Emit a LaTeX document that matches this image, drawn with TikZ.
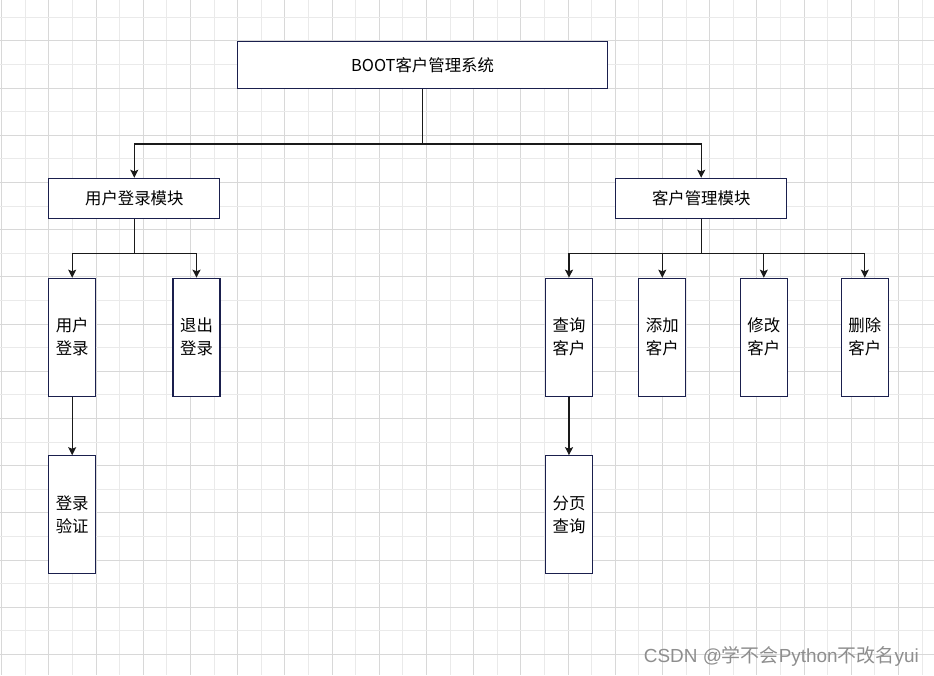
\documentclass[tikz,border=0pt]{standalone}
\usepackage{fontspec}
\setmainfont{Noto Sans CJK SC}
\newfontfamily\wmlat{Liberation Sans}
\usetikzlibrary{arrows.meta}
\definecolor{boxc}{HTML}{1A1F4D}
\definecolor{gridmaj}{HTML}{D8D8D8}
\definecolor{gridmin}{HTML}{EAEAEA}
\definecolor{linec}{HTML}{1A1A1A}
\definecolor{wmc}{HTML}{8E8E8E}
\begin{document}
\begin{tikzpicture}[x=0.75pt,y=-0.75pt,
  box/.style={draw=boxc,line width=0.8pt,fill=white,inner sep=0pt,
    font=\fontsize{12.3pt}{17.25pt}\selectfont,align=center,text=black},
  topbox/.style={box,minimum width=277.5pt,minimum height=35pt},
  modbox/.style={box,minimum width=128.25pt,minimum height=30pt},
  leafbox/.style={box,minimum width=35.25pt,minimum height=88.5pt},
  arr/.style={draw=linec,line width=0.95pt,-{Stealth[length=6pt,width=6pt,inset=1.2pt]}},
  gmaj/.style={draw=gridmaj,line width=0.75pt},
  gmin/.style={draw=gridmin,line width=0.75pt}]
\useasboundingbox (0,0) rectangle (934,675);
\fill[white] (0,0) rectangle (934,675);
% grid
\foreach \k in {0,...,39}{
  \pgfmathsetmacro{\gx}{1.7+23.6*\k}
  \ifodd\k
    \draw[gmin] (\gx,0) -- (\gx,675);
  \else
    \draw[gmaj] (\gx,0) -- (\gx,675);
  \fi
}
\foreach \k in {0,...,27}{
  \pgfmathsetmacro{\gy}{17.3+23.6*\k}
  \ifodd\k
    \draw[gmaj] (0,\gy) -- (934,\gy);
  \else
    \draw[gmin] (0,\gy) -- (934,\gy);
  \fi
}
% nodes
\node[topbox] (top) at (422.5,65) {BOOT客户管理系统};
\node[modbox] (m1) at (134.3,198.3) {用户登录模块};
\node[modbox] (m2) at (701.2,198.3) {客户管理模块};
\node[leafbox] (a1) at (72.2,337.2) {用户\\登录};
\node[leafbox] (a2) at (196.5,337.2) {退出\\登录};
\node[leafbox] (a3) at (72.2,514.7) {登录\\验证};
\node[leafbox] (b1) at (569,337.2) {查询\\客户};
\node[leafbox] (b2) at (662.3,337.2) {添加\\客户};
\node[leafbox] (b3) at (763.8,337.2) {修改\\客户};
\node[leafbox] (b4) at (864.8,337.2) {删除\\客户};
\node[leafbox] (b5) at (569,514.7) {分页\\查询};
% connectors
\draw[arr] (top.south) -- ++(0,55) -| (m1.north);
\draw[arr] (top.south) -- ++(0,55) -| (m2.north);
\draw[arr] (m1.south) -- ++(0,34.7) -| (a1.north);
\draw[arr] (m1.south) -- ++(0,34.7) -| (a2.north);
\draw[arr] (a1.south) -- (a3.north);
\draw[arr] (m2.south) -- ++(0,34.7) -| (b1.north);
\draw[arr] (m2.south) -- ++(0,34.7) -| (b2.north);
\draw[arr] (m2.south) -- ++(0,34.7) -| (b3.north);
\draw[arr] (m2.south) -- ++(0,34.7) -| (b4.north);
\draw[arr] (b1.south) -- (b5.north);
% watermark
\node[anchor=east,text=wmc,inner sep=0pt,font=\fontsize{14.2pt}{16pt}\selectfont] (wm) at (919,656)
  {{\wmlat CSDN @}学不会{\wmlat Python}不改名{\wmlat yui}};
\end{tikzpicture}
\end{document}
